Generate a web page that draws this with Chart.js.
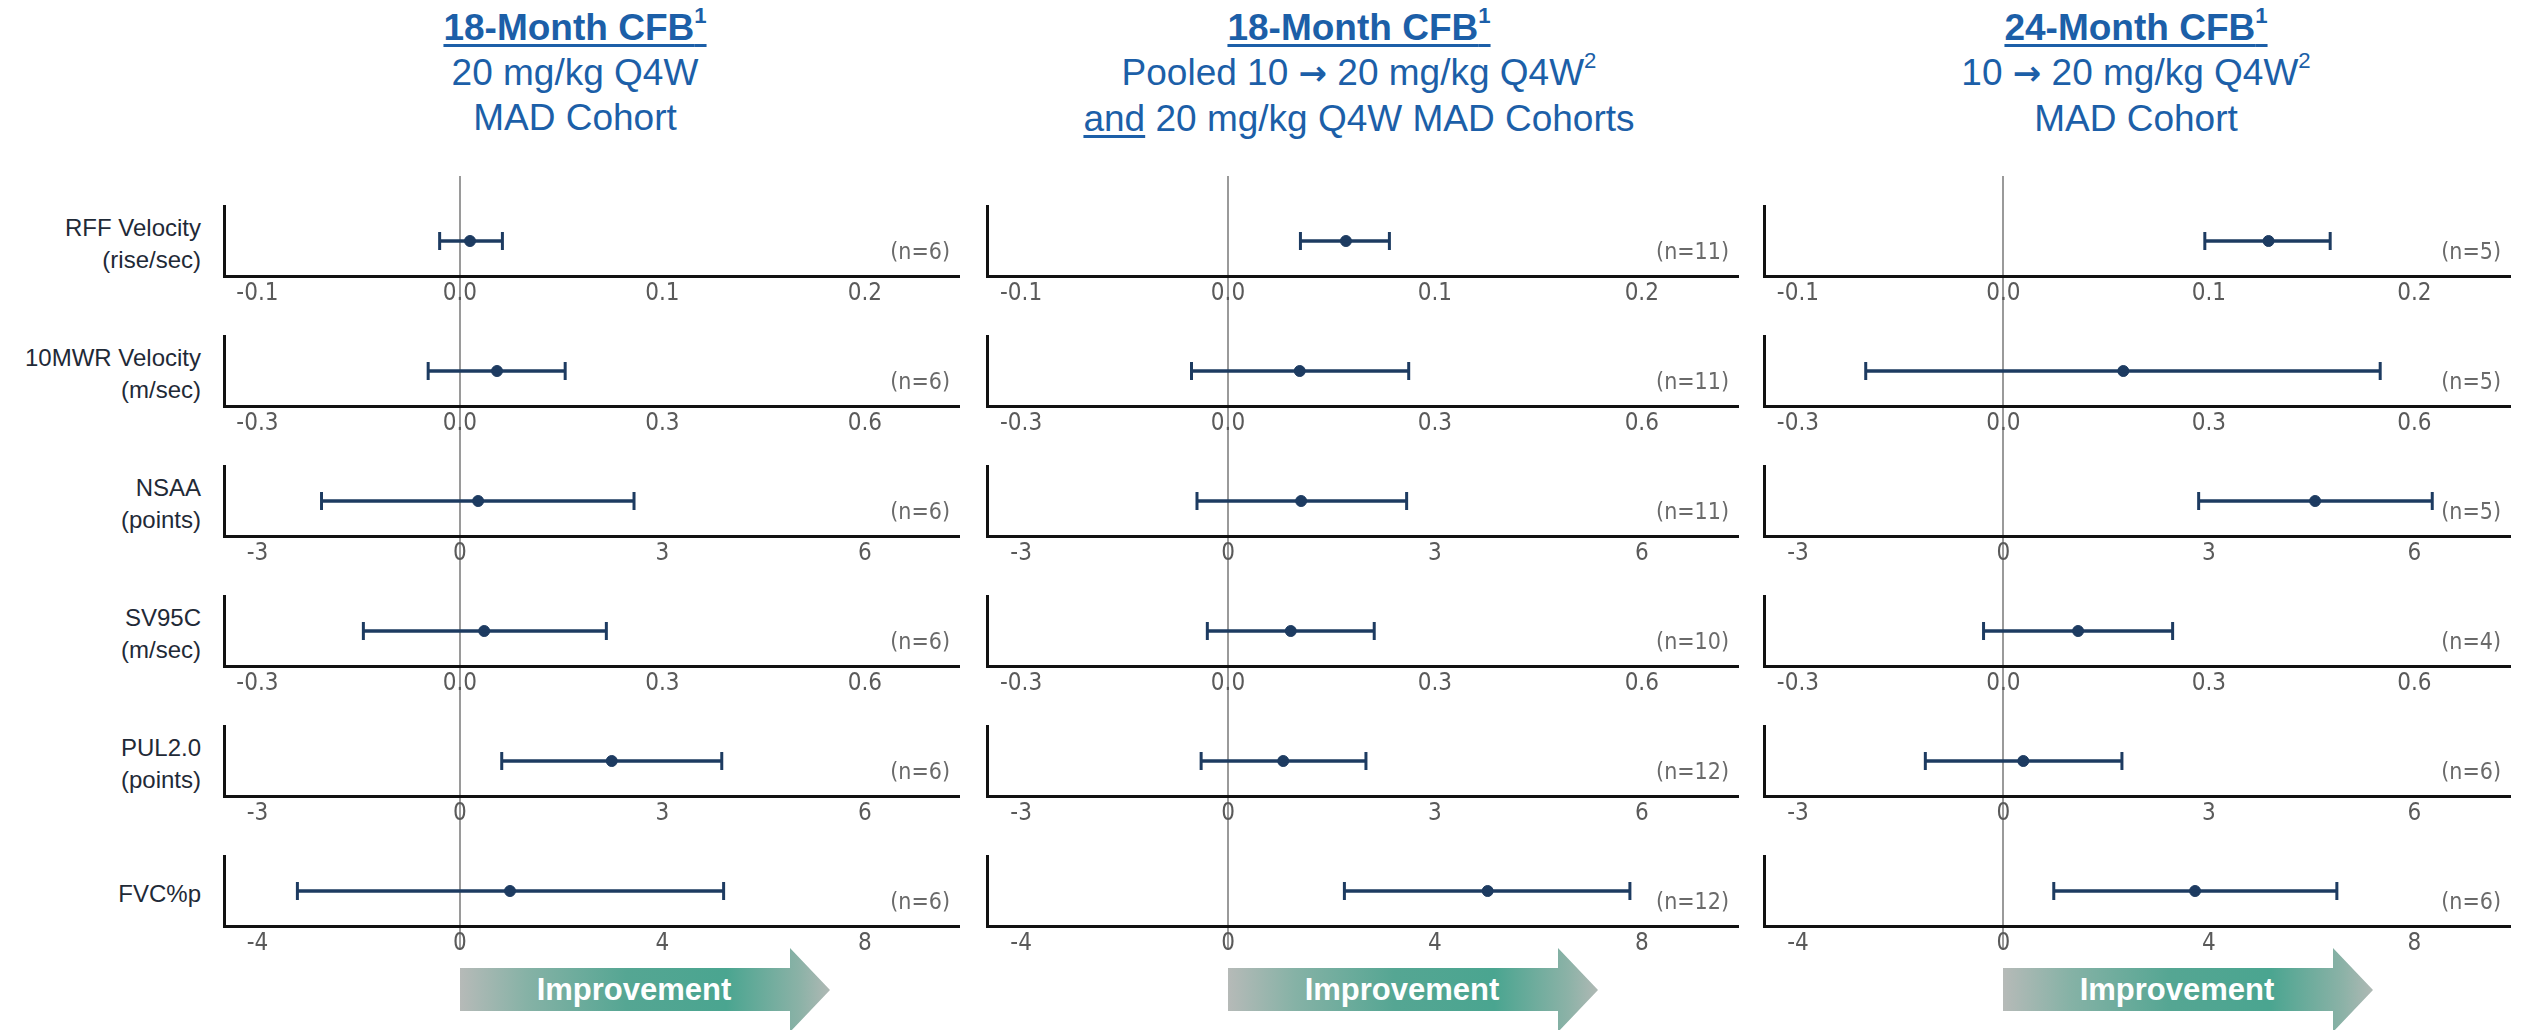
<!DOCTYPE html>
<html>
<head>
<meta charset="utf-8">
<script src="https://cdn.jsdelivr.net/npm/chart.js@4.4.1/dist/chart.umd.min.js"></script>
<style>
  body { margin: 0; width: 2522px; height: 1030px; background: #fff; position: relative; overflow: hidden;
         font-family: "Liberation Sans", Arial, sans-serif; }
  .title { position: absolute; top: 5px; width: 800px; text-align: center; color: #1c5fa8;
           font-size: 37px; line-height: 45px; white-space: nowrap; }
  .title sup { font-size: 0.6em; line-height: 0; vertical-align: 0.75em; }
  .title .arr { font-family: "DejaVu Sans", sans-serif; font-weight: bold; font-size: 34px; }
  .u { text-decoration: underline; text-decoration-thickness: 3px; text-underline-offset: 4px; }
  .rowlab { position: absolute; left: 0; width: 201px; text-align: right; color: #1f2a37;
            font-size: 24px; line-height: 32px; }
  canvas { position: absolute; }
  .arrow { position: absolute; top: 948px; width: 370px; height: 84px;
           clip-path: polygon(0 20px, 330px 20px, 330px 0, 370px 42px, 330px 84px, 330px 63px, 0 63px);
           background: linear-gradient(to right, #b6bab8 0%, #86b2a6 18%, #55a693 45%, #4aa590 72%, #8cb2a7 92%, #b0b9b5 100%); }
  .arrow span { position: absolute; left: 0; width: 348px; top: 0; line-height: 84px; text-align: center;
                color: #fff; font-weight: bold; font-size: 31px; }
</style>
</head>
<body>

<div class="title" style="left:175px"><span class="u"><b>18-Month CFB<sup>1</sup></b></span><br>20 mg/kg Q4W<br>MAD Cohort</div>
<div class="title" style="left:959px"><span class="u"><b>18-Month CFB<sup>1</sup></b></span><br>Pooled 10 <span class="arr">→</span> 20 mg/kg Q4W<sup>2</sup><br><span class="u">and</span> 20 mg/kg Q4W MAD Cohorts</div>
<div class="title" style="left:1736px"><span class="u"><b>24-Month CFB<sup>1</sup></b></span><br>10 <span class="arr">→</span> 20 mg/kg Q4W<sup>2</sup><br>MAD Cohort</div>

<script>
/* =========================
   DATA
========================= */
const rowLabels = [
  ["RFF Velocity", "(rise/sec)"],
  ["10MWR Velocity", "(m/sec)"],
  ["NSAA", "(points)"],
  ["SV95C", "(m/sec)"],
  ["PUL2.0", "(points)"],
  ["FVC%p"]
];

const tickSteps = [0.1, 0.3, 3, 0.3, 3, 4];
const tickValues = [
  [-0.1, 0, 0.1, 0.2],
  [-0.3, 0, 0.3, 0.6],
  [-3, 0, 3, 6],
  [-0.3, 0, 0.3, 0.6],
  [-3, 0, 3, 6],
  [-4, 0, 4, 8]
];
const tickLabels = [
  ["-0.1", "0.0", "0.1", "0.2"],
  ["-0.3", "0.0", "0.3", "0.6"],
  ["-3", "0", "3", "6"],
  ["-0.3", "0.0", "0.3", "0.6"],
  ["-3", "0", "3", "6"],
  ["-4", "0", "4", "8"]
];

// 18-month, 20 mg/kg Q4W MAD cohort
const mad20Mean = [0.005, 0.055, 0.27, 0.036, 2.25, 0.99];
const mad20Low  = [-0.010, -0.047, -2.05, -0.143, 0.62, -3.21];
const mad20High = [0.021, 0.156, 2.58, 0.217, 3.88, 5.21];
const mad20N    = [6, 6, 6, 6, 6, 6];

// 18-month, pooled cohorts
const pooledMean = [0.057, 0.104, 1.06, 0.091, 0.80, 5.02];
const pooledLow  = [0.035, -0.053, -0.45, -0.030, -0.39, 2.25];
const pooledHigh = [0.078, 0.262, 2.59, 0.212, 2.00, 7.77];
const pooledN    = [11, 11, 11, 10, 12, 12];

// 24-month, 10 -> 20 mg/kg Q4W cohort
const m24Mean = [0.129, 0.175, 4.55, 0.109, 0.29, 3.73];
const m24Low  = [0.098, -0.201, 2.85, -0.029, -1.14, 0.98];
const m24High = [0.159, 0.550, 6.26, 0.247, 1.73, 6.49];
const m24N    = [5, 5, 5, 4, 6, 6];

/* =========================
   LAYOUT
========================= */
const panels = [
  { left: 218, width: 753, mean: mad20Mean, low: mad20Low, high: mad20High, n: mad20N },
  { left: 981, width: 769, mean: pooledMean, low: pooledLow, high: pooledHigh, n: pooledN },
  { left: 1758, width: 764, mean: m24Mean, low: m24Low, high: m24High, n: m24N }
];
const rowAxisY = [276, 406, 536, 666, 796, 926];
const PAD_L = 6;
const NAVY = "#1d3b61";
const TICK_FONT = '"DejaVu Sans Condensed", "Liberation Sans Narrow", "DejaVu Sans", sans-serif';

/* =========================
   PLUGINS
========================= */
const zeroLine = {
  id: "zeroLine",
  beforeDraw(chart, args, opts) {
    const x = Math.round(chart.scales.x.getPixelForValue(0));
    const ctx = chart.ctx;
    ctx.save();
    ctx.strokeStyle = "#9a9a9a";
    ctx.lineWidth = 2;
    ctx.beginPath();
    ctx.moveTo(x, opts.top || 0);
    ctx.lineTo(x, opts.bottom || chart.height);
    ctx.stroke();
    ctx.restore();
  }
};

const nLabel = {
  id: "nLabel",
  afterDraw(chart, args, opts) {
    const ctx = chart.ctx;
    ctx.save();
    ctx.font = "23px " + TICK_FONT;
    ctx.fillStyle = "#6a6a6a";
    ctx.textAlign = "right";
    ctx.textBaseline = "middle";
    ctx.fillText(opts.text, chart.chartArea.right - 9, chart.chartArea.bottom - 23);
    ctx.restore();
  }
};

/* =========================
   ROW LABELS
========================= */
rowLabels.forEach((lines, r) => {
  const div = document.createElement("div");
  div.className = "rowlab";
  div.style.top = (rowAxisY[r] - 32 - lines.length * 16) + "px";
  div.innerHTML = lines.join("<br>");
  document.body.appendChild(div);
});

/* =========================
   CHARTS
========================= */
panels.forEach((p, pi) => {
  let zeroX = 0;
  rowLabels.forEach((lab, r) => {
    const step = tickSteps[r];
    const canvas = document.createElement("canvas");
    canvas.width = p.width + PAD_L;
    canvas.height = 130;
    canvas.style.left = (p.left - PAD_L) + "px";
    canvas.style.top = (rowAxisY[r] - 100) + "px";
    document.body.appendChild(canvas);

    const chart = new Chart(canvas, {
      type: "scatter",
      data: {
        datasets: [
          {
            data: [{ x: p.low[r], y: 0 }, { x: p.high[r], y: 0 }],
            showLine: true,
            borderColor: NAVY,
            borderWidth: 3.5,
            pointStyle: "line",
            rotation: 90,
            pointRadius: 9,
            pointBorderWidth: 3,
            pointBorderColor: NAVY,
            pointBackgroundColor: NAVY
          },
          {
            data: [{ x: p.mean[r], y: 0 }],
            pointStyle: "circle",
            pointRadius: 5.5,
            pointBorderWidth: 1,
            pointBorderColor: NAVY,
            pointBackgroundColor: NAVY
          }
        ]
      },
      options: {
        responsive: false,
        animation: false,
        devicePixelRatio: 1,
        layout: { padding: { left: PAD_L, top: 30, right: 0, bottom: 0 } },
        scales: {
          x: {
            type: "linear",
            min: -1.165 * step,
            max: 2.465 * step,
            grid: { display: false, drawTicks: false },
            border: { display: true, color: "#111", width: 3 },
            afterBuildTicks: s => { s.ticks = tickValues[r].map(v => ({ value: v })); },
            afterFit: s => { s.height = 30; },
            ticks: {
              autoSkip: false,
              maxRotation: 0,
              padding: 3,
              color: "#5a5a5a",
              font: { family: TICK_FONT, size: 24 },
              callback: (v, i) => tickLabels[r][i]
            }
          },
          y: {
            type: "linear",
            min: -1,
            max: 1,
            grid: { display: false, drawTicks: false },
            border: { display: true, color: "#111", width: 3 },
            ticks: { display: false },
            afterFit: s => { s.width = 0; }
          }
        },
        plugins: {
          legend: { display: false },
          tooltip: { enabled: false },
          zeroLine: { top: 0, bottom: r === rowLabels.length - 1 ? 124 : 130 },
          nLabel: { text: "(n=" + p.n[r] + ")" }
        }
      },
      plugins: [zeroLine, nLabel]
    });
    zeroX = p.left - PAD_L + chart.scales.x.getPixelForValue(0);
  });

  const arrow = document.createElement("div");
  arrow.className = "arrow";
  arrow.style.left = Math.round(zeroX) + "px";
  arrow.innerHTML = "<span>Improvement</span>";
  document.body.appendChild(arrow);
});
</script>
</body>
</html>
